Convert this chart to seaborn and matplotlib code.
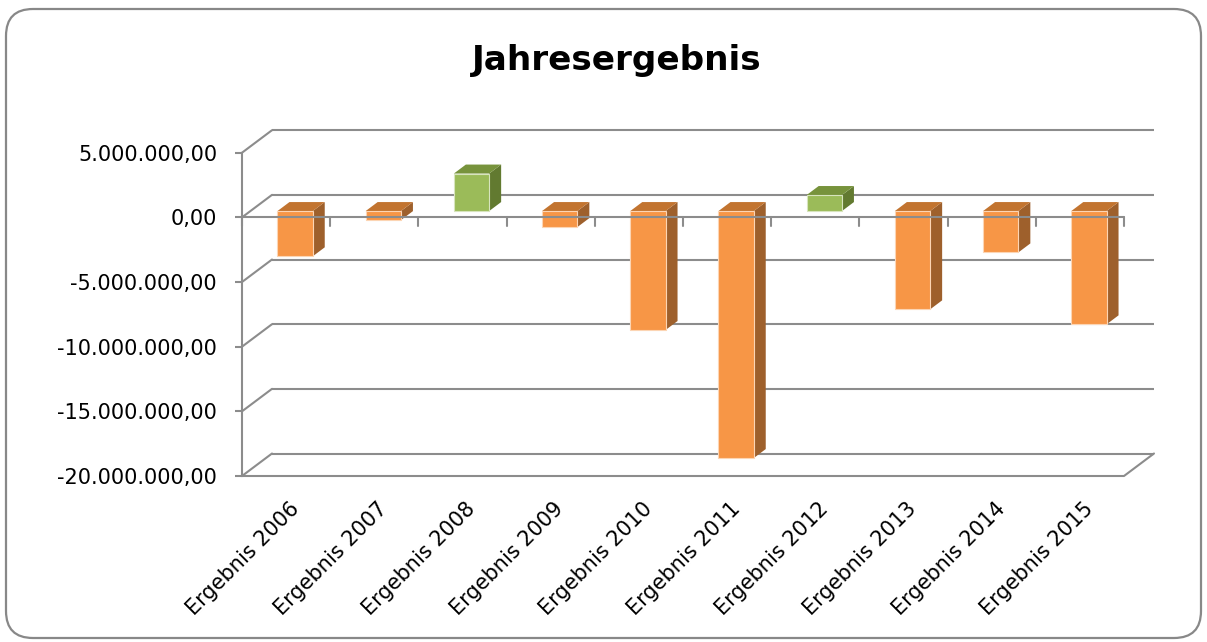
import matplotlib
matplotlib.use("Agg")
import matplotlib.pyplot as plt
import matplotlib.transforms as mtransforms
from matplotlib.patches import Polygon, FancyBboxPatch
import seaborn as sns
import pandas as pd

# Annual results (EUR)
categories = ["Ergebnis 2006", "Ergebnis 2007", "Ergebnis 2008", "Ergebnis 2009",
              "Ergebnis 2010", "Ergebnis 2011", "Ergebnis 2012", "Ergebnis 2013",
              "Ergebnis 2014", "Ergebnis 2015"]
values = [-3500000, -700000, 2900000, -1240000, -9200000,
          -19100000, 1240000, -7600000, -3200000, -8760000]
y_ticks = [-20000000, -15000000, -10000000, -5000000, 0, 5000000]
title = "Jahresergebnis"

sns.set_theme(style="white")
plt.rcParams["font.family"] = ["DejaVu Sans"]

GRID = "#8C8C8C"
FRONT = {"pos": "#9BBB59", "neg": "#F79646"}
TOP = {"pos": "#77933C", "neg": "#C27430"}
SIDE = {"pos": "#627A30", "neg": "#9E602C"}
EDGE = {"pos": "#D7E4BD", "neg": "#FCD5B4"}

fig = plt.figure(figsize=(12.07, 6.42), dpi=100)
ax = fig.add_axes([242 / 1207, 1 - 476 / 642, 882 / 1207, 323.3 / 642])

ymin, ymax = y_ticks[0], y_ticks[-1]
ax.set_xlim(-0.5, len(categories) - 0.5)
ax.set_ylim(ymin, ymax)

# oblique projection offsets in data units
px_x = 882 / len(categories)          # pixels per category
px_y = 323.3 / (ymax - ymin)          # pixels per unit value
wall_dx, wall_dy = 30 / px_x, 22.5 / px_y
bar_ox, bar_oy = 9 / px_x, 6.3 / px_y
bar_dx, bar_dy = 12 / px_x, 9 / px_y

df = pd.DataFrame({"cat": categories, "val": values,
                   "sign": ["pos" if v >= 0 else "neg" for v in values]})

x_left, x_right = -0.5, len(categories) - 0.5

# back wall gridlines and left wall diagonals
for t in y_ticks:
    ax.plot([x_left + wall_dx, x_right + wall_dx], [t + wall_dy, t + wall_dy],
            color=GRID, lw=1.5, clip_on=False, zorder=1, solid_capstyle="butt")
    ax.plot([x_left, x_left + wall_dx], [t, t + wall_dy],
            color=GRID, lw=1.5, clip_on=False, zorder=1)
# floor front edge and right edge
ax.plot([x_left, x_right, x_right + wall_dx], [ymin, ymin, ymin + wall_dy],
        color=GRID, lw=1.5, clip_on=False, zorder=1)

sns.barplot(data=df, x="cat", y="val", hue="sign", palette=FRONT, dodge=False,
            width=0.4, legend=False, ax=ax, saturation=1, zorder=3)

shift = mtransforms.Affine2D().translate(bar_ox, bar_oy) + ax.transData
for p in ax.patches:
    x0, w = p.get_x(), p.get_width()
    y0, h = p.get_y(), p.get_height()
    key = "pos" if h >= 0 else "neg"
    lo, hi = min(y0, y0 + h), max(y0, y0 + h)
    p.set_transform(shift)
    p.set_edgecolor(EDGE[key])
    p.set_linewidth(0.8)
    p.set_clip_on(False)
    side = Polygon([(x0 + w, lo), (x0 + w, hi), (x0 + w + bar_dx, hi + bar_dy),
                    (x0 + w + bar_dx, lo + bar_dy)], closed=True,
                   facecolor=SIDE[key], edgecolor="none", transform=shift,
                   clip_on=False, zorder=2.9)
    top = Polygon([(x0, hi), (x0 + w, hi), (x0 + w + bar_dx, hi + bar_dy),
                   (x0 + bar_dx, hi + bar_dy)], closed=True,
                  facecolor=TOP[key], edgecolor="none", transform=shift,
                  clip_on=False, zorder=2.9)
    ax.add_patch(side)
    ax.add_patch(top)

# front zero line with category separators
ax.plot([x_left, x_right], [0, 0], color=GRID, lw=1.5, clip_on=False, zorder=4)
tick_len = 9 / px_y
for i in range(len(categories) + 1):
    xb = x_left + i
    ax.plot([xb, xb], [0, -tick_len], color=GRID, lw=1.5, clip_on=False, zorder=4)

# value axis
for s in ["top", "right", "bottom"]:
    ax.spines[s].set_visible(False)
ax.spines["left"].set_color(GRID)
ax.spines["left"].set_linewidth(1.5)
ax.spines["left"].set_zorder(1)


def de_fmt(v):
    s = f"{v:,.2f}"
    return s.replace(",", "X").replace(".", ",").replace("X", ".")


ax.set_yticks(y_ticks)
ax.set_yticklabels([de_fmt(v) for v in y_ticks])
ax.tick_params(axis="y", length=5, width=1.5, color=GRID, pad=13,
               labelsize=15, labelcolor="black", left=True)
ax.set_xticks([])
ax.set_xlabel("")
ax.set_ylabel("")
ax.patch.set_visible(False)

# category labels
lab_tr = mtransforms.blended_transform_factory(ax.transData, ax.transAxes) + \
    mtransforms.ScaledTranslation(10 / 100, -30 / 100, fig.dpi_scale_trans)
for i, c in enumerate(categories):
    ax.text(i, 0, c, transform=lab_tr, rotation=45, ha="right", va="center",
            rotation_mode="anchor", fontsize=15, color="black")

fig.text(617 / 1207, 1 - 70 / 642, title, ha="center", va="baseline",
         fontsize=24.7, fontweight="bold", color="black")

# chart frame
frame = FancyBboxPatch((0.06, 0.04), 11.95, 6.29,
                       boxstyle="round,pad=0,rounding_size=0.27",
                       transform=fig.dpi_scale_trans, facecolor="none",
                       edgecolor="#888888", linewidth=1.6)
fig.add_artist(frame)

fig.savefig("out.png", dpi=100, facecolor="white")
